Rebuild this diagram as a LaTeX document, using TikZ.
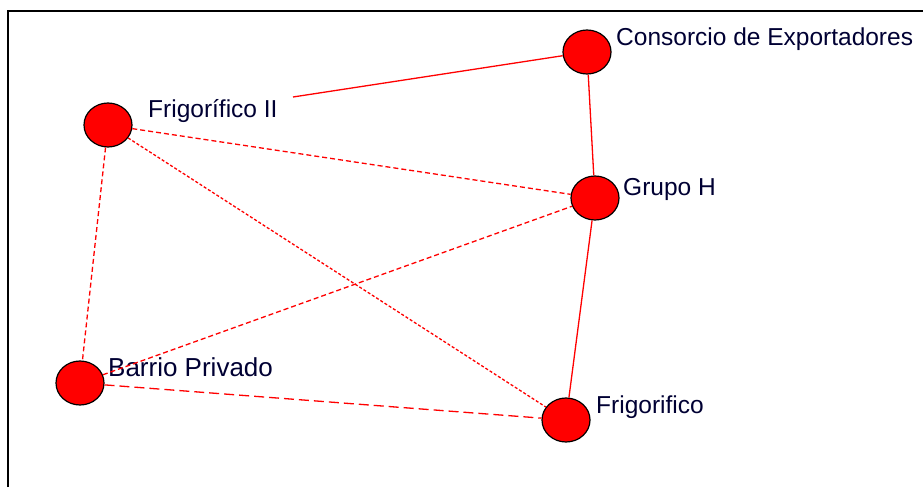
\documentclass[tikz,border=0pt]{standalone}
\usepackage{fontspec}
\setmainfont{Liberation Sans}
\usetikzlibrary{shapes.geometric}

\tikzset{
  actor/.style={ellipse,draw=black,line width=1.2pt,fill=red,minimum width=48pt,minimum height=44pt,inner sep=0pt},
  actorlabel/.style={anchor=base west,inner sep=0pt,font=\fontsize{24.5}{28}\selectfont,text=black!80!blue},
  tie/.style={red,line width=1.3pt},
  tiedash/.style={tie,dash pattern=on 5pt off 3pt},
  tielong/.style={tie,dash pattern=on 10pt off 5pt},
  tiedot/.style={tie,dash pattern=on 3pt off 2pt}
}

\begin{document}
\begin{tikzpicture}[x=1pt,y=-1pt]
  \useasboundingbox (0,0) rectangle (923,487);
  \draw[line width=2pt] (8,487) -- (8,11) -- (923,11);

  \node[actor] (fII) at (108,125) {};
  \node[actor] (cons) at (587,52) {};
  \node[actor] (grupo) at (595,198) {};
  \node[actor] (barrio) at (80,383) {};
  \node[actor] (frig) at (566,420) {};

  \node[actorlabel] (fII-lab) at (148,117) {Frigorífico II};
  \node[actorlabel] (cons-lab) at (616,46) {Consorcio de Exportadores};
  \node[actorlabel] (grupo-lab) at (623,195) {Grupo H};
  \node[actorlabel,font=\fontsize{26}{28}\selectfont] (barrio-lab) at (108,376) {Barrio Privado};
  \node[actorlabel] (frig-lab) at (596,413) {Frigorifico};
  \coordinate (fII-end) at (293,97);

  \draw[tie] (fII-end) -- (cons);
  \draw[tie] (cons) -- (grupo);
  \draw[tie] (grupo) -- (frig);
  \draw[tiedash] (fII) -- (grupo);
  \draw[tiedash] (fII) -- (barrio);
  \draw[tiedot] (fII) -- (frig);
  \draw[tiedash] (barrio) -- (grupo);
  \draw[tielong] (barrio) -- (frig);
\end{tikzpicture}
\end{document}
